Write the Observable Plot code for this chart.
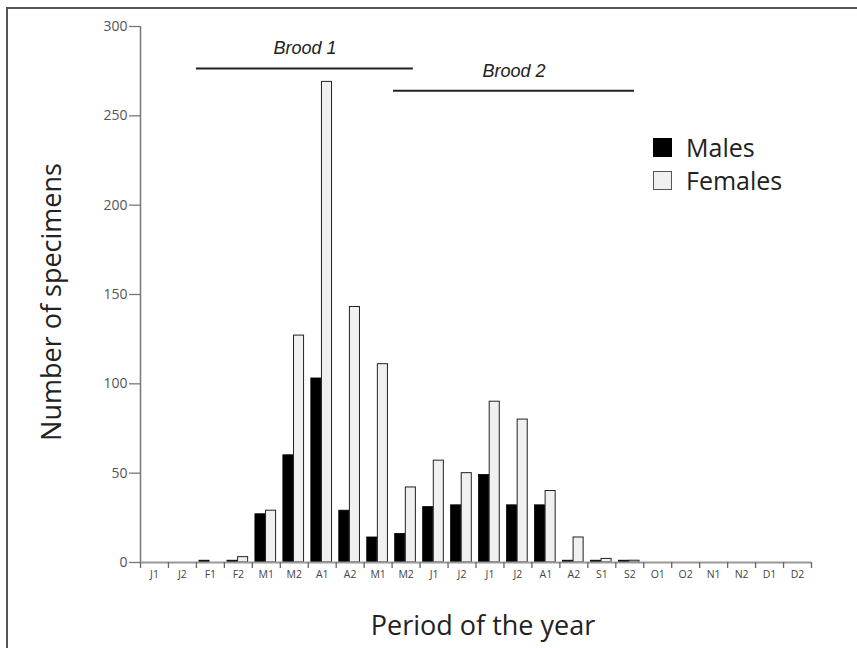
<!DOCTYPE html>
<html><head><meta charset="utf-8">
<script src="https://cdn.jsdelivr.net/npm/d3@7"></script>
<script src="https://cdn.jsdelivr.net/npm/@observablehq/plot@0.6"></script>
<style>
body{margin:0;background:#fff;}
#wrap{position:relative;width:857px;height:648px;overflow:hidden;font-family:"Open Sans",sans-serif;background:#fff;}
#frame{position:absolute;left:6px;top:7px;width:900px;height:700px;border-left:2px solid #555;border-top:2px solid #555;pointer-events:none;}
#chart{position:absolute;left:0;top:0;}
#legend{position:absolute;left:653px;top:131px;font-size:25px;color:#222;line-height:33px;}
#legend .row{display:flex;align-items:center;height:33px;}
#legend .sw{width:19px;height:19px;margin-right:14px;box-sizing:border-box;}
#xtitle{position:absolute;left:0;width:966px;top:606px;text-align:center;font-size:27px;color:#222;}
#ytitle{position:absolute;left:50px;top:302px;transform:translate(-50%,-50%) rotate(-90deg);white-space:nowrap;font-size:27px;color:#222;}
</style></head>
<body>
<div id="wrap">
<div id="chart"></div>
<div id="frame"></div>
<div id="legend"></div>
<div id="xtitle">Period of the year</div>
<div id="ytitle">Number of specimens</div>
</div>
<script>
const periods = ["J1","J2","F1","F2","M1","M2","A1","A2","M1","M2","J1","J2","J1","J2","A1","A2","S1","S2","O1","O2","N1","N2","D1","D2"];
const males   = [0,0,1,1,27,60,103,29,14,16,31,32,49,32,32,1,1,1,0,0,0,0,0,0];
const females = [0,0,0,3,29,127,269,143,111,42,57,50,90,80,40,14,2,1,0,0,0,0,0,0];
const yTicks = [0,50,100,150,200,250,300];
const broodNames = ["Brood 1","Brood 2"];
const broodStart = [2, 9.05];
const broodEnd = [9.76, 17.67];
const broodLevel = [276.5, 264];
const seriesNames = ["Males","Females"];
const seriesFill = ["#000","#f0f0f0"];

const idx = d3.range(periods.length);
const bIdx = d3.range(broodNames.length);

const chart = Plot.plot({
  width: 857, height: 648,
  marginLeft: 140, marginRight: 46, marginTop: 26, marginBottom: 86,
  style: {fontFamily: "'Open Sans', sans-serif", background: "transparent"},
  x: {domain: [0, periods.length], axis: null},
  y: {domain: [0, 300], axis: null},
  marks: [
    Plot.rectY(idx.filter(i => males[i] > 0), {x1: i => i + 0.11, x2: i => i + 0.47, y: i => males[i], fill: seriesFill[0], stroke: "#000", strokeWidth: 0.8}),
    Plot.rectY(idx.filter(i => females[i] > 0), {x1: i => i + 0.49, x2: i => i + 0.85, y: i => females[i], fill: seriesFill[1], stroke: "#222", strokeWidth: 1}),
    Plot.ruleY([0], {stroke: "#999", strokeWidth: 2}),
    Plot.ruleX([0], {y1: 0, y2: 300, stroke: "#777", strokeWidth: 1.5}),
    Plot.axisY({ticks: yTicks, tickSize: 11, tickPadding: 2, fontSize: 14, fill: "#555", stroke: "#777", strokeWidth: 1.3, label: null}),
    Plot.axisX({ticks: d3.range(periods.length + 1), tickSize: 6, tickFormat: () => "", stroke: "#666", strokeWidth: 1.3, label: null}),
    Plot.axisX({ticks: idx.map(i => i + 0.5), tickSize: 0, tickPadding: 8, fontSize: 10.5, fill: "#444", tickFormat: v => periods[Math.floor(v)], label: null}),
    Plot.ruleY(bIdx, {y: i => broodLevel[i], x1: i => broodStart[i], x2: i => broodEnd[i], stroke: "#222", strokeWidth: 2}),
    Plot.text(bIdx, {x: i => (broodStart[i] + broodEnd[i]) / 2, y: i => broodLevel[i], text: i => broodNames[i], dy: -20, fontSize: 18, fontStyle: "italic", fontFamily: "'Liberation Sans', Arial, sans-serif", fill: "#222"})
  ]
});
document.getElementById("chart").appendChild(chart);

const legend = document.getElementById("legend");
seriesNames.forEach((name, k) => {
  const row = document.createElement("div");
  row.className = "row";
  const sw = document.createElement("div");
  sw.className = "sw";
  sw.style.background = seriesFill[k];
  sw.style.border = "1.5px solid " + (k === 0 ? "#000" : "#555");
  row.appendChild(sw);
  const t = document.createElement("span");
  t.textContent = name;
  row.appendChild(t);
  legend.appendChild(row);
});
</script>
</body></html>
